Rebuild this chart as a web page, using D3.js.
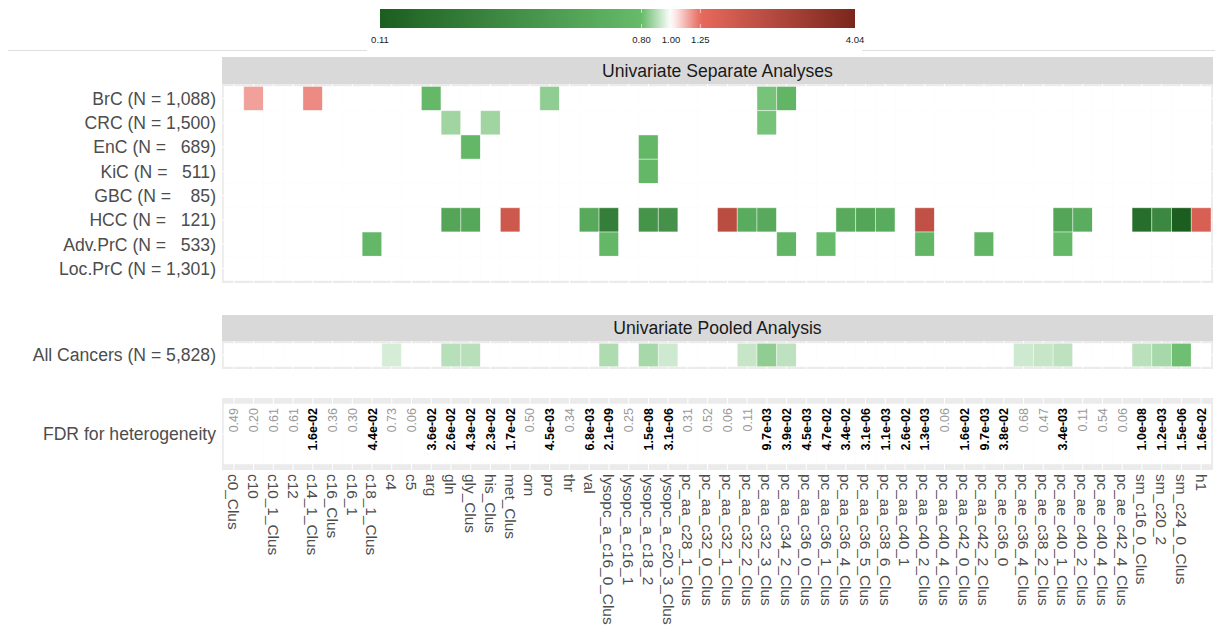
<!DOCTYPE html>
<html>
<head>
<meta charset="UTF-8">
<title>Metabolites and cancer risk</title>
<script src="https://d3js.org/d3.v7.min.js"></script>
<style>
  body { margin: 0; background: #fff; font-family: "Liberation Sans", Arial, sans-serif; }
  svg text { white-space: pre; }
  .rowlab { font-size: 17.6px; fill: #4d4d4d; text-anchor: end; }
  .strip { font-size: 17.6px; fill: #1a1a1a; text-anchor: middle; }
  .xlab { font-size: 15.4px; fill: #4d4d4d; }
  .fdr-sig { font-size: 12.5px; font-weight: bold; fill: #000; }
  .fdr-ns { font-size: 12.5px; fill: #999; }
  .cbar text { font-size: 9.5px; fill: #1a1a1a; text-anchor: middle; }
</style>
</head>
<body>
<script>
// metabolites (x axis)
const metabolites = ["c0_Clus","c10","c10_1_Clus","c12","c14_1_Clus","c16_Clus","c16_1","c18_1_Clus","c4","c5",
  "arg","gln","gly_Clus","his_Clus","met_Clus","orn","pro","thr","val","lysopc_a_c16_0_Clus",
  "lysopc_a_c16_1","lysopc_a_c18_2","lysopc_a_c20_3_Clus","pc_aa_c28_1_Clus","pc_aa_c32_0_Clus","pc_aa_c32_1_Clus","pc_aa_c32_2_Clus","pc_aa_c32_3_Clus","pc_aa_c34_2_Clus","pc_aa_c36_0_Clus",
  "pc_aa_c36_1_Clus","pc_aa_c36_4_Clus","pc_aa_c36_5_Clus","pc_aa_c38_6_Clus","pc_aa_c40_1","pc_aa_c40_2_Clus","pc_aa_c40_4_Clus","pc_aa_c42_0_Clus","pc_aa_c42_2_Clus","pc_ae_c36_0",
  "pc_ae_c36_4_Clus","pc_ae_c38_2_Clus","pc_ae_c40_1_Clus","pc_ae_c40_2_Clus","pc_ae_c40_4_Clus","pc_ae_c42_4_Clus","sm_c16_0_Clus","sm_c20_2","sm_c24_0_Clus","h1"];

// cancer sites (rows of the separate analyses)
const cancers = ["BrC (N = 1,088)","CRC (N = 1,500)","EnC (N =   689)","KiC (N =   511)",
  "GBC (N =    85)","HCC (N =   121)","Adv.PrC (N =   533)","Loc.PrC (N = 1,301)"];
const pooledLabel = "All Cancers (N = 5,828)";

// odds ratios of significant associations, per cancer site
const brcOR = [["c10",1.15],["c14_1_Clus",1.19],["arg",0.75],["pro",0.85],["pc_aa_c32_3_Clus",0.82],["pc_aa_c34_2_Clus",0.70]];
const crcOR = [["gln",0.87],["his_Clus",0.87],["pc_aa_c32_3_Clus",0.82]];
const encOR = [["gly_Clus",0.74],["lysopc_a_c18_2",0.74]];
const kicOR = [["lysopc_a_c18_2",0.74]];
const gbcOR = [];
const hccOR = [["gln",0.50],["gly_Clus",0.52],["met_Clus",1.66],["val",0.55],["lysopc_a_c16_0_Clus",0.22],
  ["lysopc_a_c18_2",0.34],["lysopc_a_c20_3_Clus",0.33],["pc_aa_c32_1_Clus",2.05],["pc_aa_c32_2_Clus",0.57],["pc_aa_c32_3_Clus",0.55],
  ["pc_aa_c36_4_Clus",0.56],["pc_aa_c36_5_Clus",0.50],["pc_aa_c38_6_Clus",0.57],["pc_aa_c40_2_Clus",1.90],["pc_ae_c40_1_Clus",0.50],
  ["pc_ae_c40_2_Clus",0.58],["sm_c16_0_Clus",0.15],["sm_c20_2",0.27],["sm_c24_0_Clus",0.11],["h1",1.48]];
const advPrcOR = [["c18_1_Clus",0.74],["lysopc_a_c16_0_Clus",0.74],["pc_aa_c34_2_Clus",0.70],["pc_aa_c36_1_Clus",0.80],
  ["pc_aa_c40_2_Clus",0.72],["pc_aa_c42_2_Clus",0.70],["pc_ae_c40_1_Clus",0.74]];
const locPrcOR = [];
const separateOR = [brcOR, crcOR, encOR, kicOR, gbcOR, hccOR, advPrcOR, locPrcOR];

// pooled analysis
const pooledOR = [["c4",0.94],["gln",0.90],["gly_Clus",0.90],["lysopc_a_c16_0_Clus",0.89],["lysopc_a_c18_2",0.88],
  ["lysopc_a_c20_3_Clus",0.93],["pc_aa_c32_2_Clus",0.92],["pc_aa_c32_3_Clus",0.85],["pc_aa_c34_2_Clus",0.91],
  ["pc_ae_c36_4_Clus",0.93],["pc_ae_c38_2_Clus",0.92],["pc_ae_c40_1_Clus",0.91],["sm_c16_0_Clus",0.905],["sm_c20_2",0.88],["sm_c24_0_Clus",0.81]];

// FDR for heterogeneity (same order as metabolites)
const fdrLabels = ["0.49","0.20","0.61","0.61","1.6e-02","0.36","0.30","4.4e-02","0.73","0.06",
  "3.6e-02","2.6e-02","4.3e-02","2.3e-02","1.7e-02","0.50","4.5e-03","0.34","6.8e-03","2.1e-09",
  "0.25","1.5e-08","3.1e-06","0.31","0.52","0.06","0.11","9.7e-03","3.9e-02","4.5e-03",
  "4.7e-02","3.4e-02","3.1e-06","1.1e-03","2.6e-02","1.3e-03","0.06","1.6e-02","9.7e-03","3.8e-02",
  "0.68","0.47","3.4e-03","0.11","0.54","0.06","1.0e-08","1.2e-03","1.5e-06","1.6e-02"];

// colour bar
const legendBreaks = [0.11, 0.80, 1.00, 1.25, 4.04];
const legendColors = ["#1b5e20", "#66bb6a", "#ffffff", "#e8695d", "#7a261c"];

const W = 1215, H = 628;
const svg = d3.select("body").append("svg").attr("width", W).attr("height", H);

const color = d3.scaleLog().domain(legendBreaks).range(legendColors).interpolate(d3.interpolateRgb);

const panelLeft = 222, panelRight = 1213;
const x = d3.scaleBand().domain(metabolites).range([panelLeft, panelRight]).paddingInner(0).paddingOuter(0.1);

// ---- colour bar legend ----
const cb = svg.append("g").attr("class", "cbar");
const cbX = d3.scaleLog().domain([legendBreaks[0], legendBreaks[4]]).range([380, 855]);
const grad = svg.append("defs").append("linearGradient").attr("id", "cbgrad");
d3.range(0, 101).forEach(i => {
  const v = Math.exp(Math.log(0.11) + i / 100 * (Math.log(4.04) - Math.log(0.11)));
  grad.append("stop").attr("offset", i + "%").attr("stop-color", color(v));
});
cb.append("rect").attr("x", 380).attr("y", 9).attr("width", 475).attr("height", 19).attr("fill", "url(#cbgrad)");
legendBreaks.slice(1, 4).forEach(b => {
  cb.append("line").attr("x1", cbX(b)).attr("x2", cbX(b)).attr("y1", 9).attr("y2", 13).attr("stroke", "#fff").attr("stroke-opacity", 0.6);
  cb.append("line").attr("x1", cbX(b)).attr("x2", cbX(b)).attr("y1", 24).attr("y2", 28).attr("stroke", "#fff").attr("stroke-opacity", 0.6);
});
cb.selectAll("text.tick").data(legendBreaks).join("text")
  .attr("x", d => cbX(d)).attr("y", 43).text(d3.format(".2f"));

// thin rule under the legend
svg.append("line").attr("x1", 8).attr("x2", 367).attr("y1", 50.5).attr("y2", 50.5).attr("stroke", "#dedede");
svg.append("line").attr("x1", 862).attr("x2", 1215).attr("y1", 50.5).attr("y2", 50.5).attr("stroke", "#dedede");

// ---- heatmap panel helper ----
function panel(rows, top, bottom, cellsByRow, stripText, stripTop) {
  const y = d3.scaleBand().domain(rows).range([top, bottom]).paddingInner(0).paddingOuter(0.1);
  const g = svg.append("g");
  if (stripText) {
    g.append("rect").attr("x", panelLeft).attr("y", stripTop).attr("width", panelRight - panelLeft)
      .attr("height", top - stripTop).attr("fill", "#d9d9d9");
    g.append("text").attr("class", "strip").attr("x", (panelLeft + panelRight) / 2)
      .attr("y", (stripTop + top) / 2).attr("dy", "0.36em").text(stripText);
  }
  g.append("rect").attr("x", panelLeft).attr("y", top).attr("width", panelRight - panelLeft)
    .attr("height", bottom - top).attr("fill", "#ebebeb");
  g.selectAll("line.vg").data(metabolites).join("line")
    .attr("x1", d => x(d) + x.bandwidth() / 2).attr("x2", d => x(d) + x.bandwidth() / 2)
    .attr("y1", top).attr("y2", bottom).attr("stroke", "#fff").attr("stroke-width", 1);
  g.selectAll("line.hg").data(rows).join("line")
    .attr("x1", panelLeft).attr("x2", panelRight)
    .attr("y1", d => y(d) + y.bandwidth() / 2).attr("y2", d => y(d) + y.bandwidth() / 2)
    .attr("stroke", "#fff").attr("stroke-width", 1);

  const cells = [];
  rows.forEach((r, i) => {
    const sig = new Map(cellsByRow[i] || []);
    metabolites.forEach(m => cells.push({ row: r, met: m, or: sig.has(m) ? sig.get(m) : null }));
  });
  g.selectAll("rect.cell").data(cells).join("rect")
    .attr("x", d => x(d.met)).attr("y", d => y(d.row))
    .attr("width", x.bandwidth()).attr("height", y.bandwidth())
    .attr("fill", d => d.or == null ? "#fff" : color(d.or))
    .attr("stroke", "#fff").attr("stroke-width", 0.8).attr("stroke-opacity", 0.55);

  g.selectAll("text.rowlab").data(rows).join("text").attr("class", "rowlab")
    .attr("x", 216).attr("y", d => y(d) + y.bandwidth() / 2).attr("dy", "0.36em").text(d => d);
  return y;
}

panel(cancers, 84, 283, separateOR, "Univariate Separate Analyses", 57);
panel([pooledLabel], 341, 369, [pooledOR], "Univariate Pooled Analysis", 315);

// ---- FDR panel ----
panel(["FDR for heterogeneity"], 398, 470, [[]], null, null);
svg.append("g").selectAll("text").data(metabolites).join("text")
  .attr("class", (d, i) => +fdrLabels[i] < 0.05 ? "fdr-sig" : "fdr-ns")
  .attr("transform", d => `translate(${x(d) + x.bandwidth() / 2},408) rotate(-90)`)
  .attr("text-anchor", "end").attr("dy", "0.36em")
  .text((d, i) => fdrLabels[i]);

// ---- x axis labels ----
svg.append("g").selectAll("text").data(metabolites).join("text")
  .attr("class", "xlab")
  .attr("transform", d => `translate(${x(d) + x.bandwidth() / 2},474) rotate(90)`)
  .attr("text-anchor", "start").attr("dy", "0.36em")
  .text(d => d);
</script>
</body>
</html>
